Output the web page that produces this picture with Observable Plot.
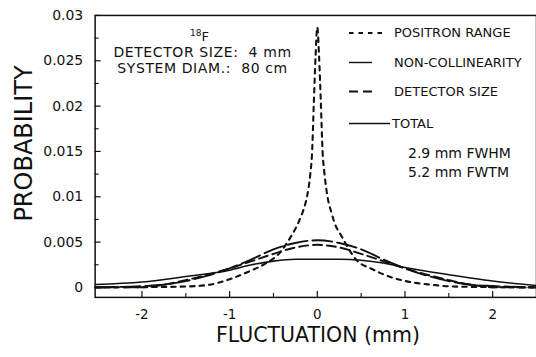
<!DOCTYPE html>
<html><head><meta charset="utf-8">
<script src="https://cdn.jsdelivr.net/npm/d3@7"></script>
<script src="https://cdn.jsdelivr.net/npm/@observablehq/plot@0.6"></script>
<style>
html,body{margin:0;padding:0;background:#fff;overflow:hidden;}
#wrap{position:relative;width:536px;height:357px;overflow:hidden;font-family:"DejaVu Sans",sans-serif;}
#wrap svg{position:absolute;left:0;top:0;}
</style></head><body><div id="wrap"></div>
<script>
// ---- data ----
const positronX = [-2.53,-2.0,-1.5,-1.23,-1.0,-0.77,-0.58,-0.43,-0.32,-0.2,-0.16,-0.12,-0.08,-0.06,-0.04,-0.02,0,
                   0.02,0.04,0.06,0.08,0.12,0.16,0.19,0.28,0.44,0.63,0.85,1.12,1.3,1.5,2.0,2.5];
const positronY = [0,0.00003,0.0001,0.0003,0.0009,0.0018,0.0027,0.0038,0.0053,0.0075,0.0085,0.0099,0.0125,0.0148,0.0203,0.0255,0.0287,
                   0.0255,0.0205,0.015,0.0127,0.0098,0.0083,0.0073,0.0056,0.0031,0.002,0.0011,0.0005,0.0003,0.00012,0.00003,0];
const noncolX = [-2.53,-2,-1.75,-1.5,-1.25,-1,-0.75,-0.5,-0.25,0,0.25,0.5,0.75,1,1.25,1.5,1.75,2,2.5];
const noncolY = [0.00002,0.00015,0.0003,0.0007,0.0013,0.0021,0.0031,0.0042,0.0049,0.0052,0.0049,0.0042,0.0031,0.0021,0.0013,0.0007,0.0003,0.00015,0.00002];
const detectorX = [-2.53,-2,-1.75,-1.5,-1.25,-1,-0.75,-0.5,-0.25,0,0.25,0.5,0.75,1,1.25,1.5,1.75,2,2.5];
const detectorY = [0,0.00003,0.0003,0.0008,0.0014,0.0021,0.0029,0.0037,0.0044,0.0047,0.0044,0.0037,0.0029,0.0021,0.0014,0.0008,0.0003,0.00003,0];
const totalX = [-2.53,-2,-1.5,-1,-0.75,-0.5,-0.25,0,0.25,0.5,0.75,1,1.5,2,2.5];
const totalY = [0.00033,0.0006,0.0012,0.0019,0.0025,0.0029,0.0031,0.0031,0.0031,0.003,0.0027,0.0022,0.0014,0.0007,0.0002];

const seriesNames = ["POSITRON RANGE","NON-COLLINEARITY","DETECTOR SIZE","TOTAL"];
const xMajor = [-2,-1,0,1,2];
const xMajorLabels = ["-2","-1","0","1","2"];
const xMinor = [-1.5,-0.5,0.5,1.5];
const yMajor = [0,0.005,0.01,0.015,0.02,0.025,0.03];
const yMajorLabels = ["0","0.005","0.01","0.015","0.02","0.025","0.03"];
const yMinor = [0.0025,0.0075,0.0125,0.0175,0.0225,0.0275];
const xDomain = [-2.534, 2.5];
const yDomain = [-0.0011, 0.03];
const xTitle = "FLUCTUATION (mm)";
const yTitle = "PROBABILITY";
const noteLines = ["DETECTOR SIZE:  4 mm", "SYSTEM DIAM.:  80 cm"];
const isotope = ["18", "F"];
const widthLines = ["2.9 mm FWHM", "5.2 mm FWTM"];

// ---- styles ----
const ink = "#111";
const curveDash = ["4.5,5", "20,5", "9,5", null];
const legendDash = ["4.5,5", null, "9,5", null];
const curveWidth = [2.1, 1.9, 2, 1.6];

const xs = [positronX, noncolX, detectorX, totalX];
const ys = [positronY, noncolY, detectorY, totalY];
const rows = [];
seriesNames.forEach((s, k) => xs[k].forEach((x, i) => rows.push({series: s, x, y: ys[k][i]})));

const chart = Plot.plot({
  width: 538, height: 357,
  marginLeft: 95, marginRight: 0, marginTop: 15, marginBottom: 59,
  style: {fontFamily: "DejaVu Sans", fontSize: "14px", color: ink, background: "transparent"},
  x: {domain: xDomain},
  y: {domain: yDomain},
  marks: [
    Plot.axisY({ticks: yMajor, tickSize: 0, tickPadding: 12, fontSize: 14, label: null,
      tickFormat: d => yMajorLabels[yMajor.indexOf(d)]}),
    Plot.axisY({ticks: yMajor, tickSize: 6, dx: 6, fill: "none", label: null, strokeWidth: 1.2}),
    Plot.axisY({ticks: yMinor, tickSize: 4, dx: 4, fill: "none", label: null, strokeWidth: 1.1}),
    Plot.axisX({ticks: xMajor, tickSize: 0, tickPadding: 12, fontSize: 13.5, label: null,
      tickFormat: d => xMajorLabels[xMajor.indexOf(d)]}),
    Plot.axisX({ticks: xMajor, tickSize: 6, dy: -6, fill: "none", label: null, strokeWidth: 1.2}),
    Plot.axisX({ticks: xMinor, tickSize: 4, dy: -4, fill: "none", label: null, strokeWidth: 1.1}),
    ...seriesNames.map((s, k) => Plot.line(rows.filter(r => r.series === s), {
      x: "x", y: "y", stroke: ink, strokeWidth: curveWidth[k],
      strokeDasharray: curveDash[k], curve: "monotone-x"
    })),
    Plot.frame({stroke: ink, strokeWidth: 1.5})
  ]
});
const wrap = document.getElementById("wrap");
wrap.appendChild(chart);

// ---- overlay: titles, notes, legend ----
const ov = d3.select(wrap).append("svg").attr("width", 536).attr("height", 357)
  .attr("font-family", "DejaVu Sans").attr("fill", ink);

ov.append("text").attr("x", 318).attr("y", 342).attr("text-anchor", "middle")
  .attr("font-size", 20.5).text(xTitle);
ov.append("text").attr("transform", "translate(32,143.5) rotate(-90)").attr("text-anchor", "middle")
  .attr("font-size", 24).text(yTitle);

const iso = ov.append("text").attr("x", 190).attr("y", 41);
iso.append("tspan").attr("font-size", 9).attr("dy", -5).text(isotope[0]);
iso.append("tspan").attr("font-size", 13).attr("dy", 5).text(isotope[1]);

const noteBase = [56.5, 73];
noteLines.forEach((t, i) => ov.append("text").attr("x", 202.5).attr("y", noteBase[i])
  .attr("text-anchor", "middle").attr("font-size", 14).attr("letter-spacing", 0.6)
  .style("white-space", "pre").text(t));

const legBase = [37, 66.5, 95.5, 127.5];
const legX2 = [384, 372, 372, 390];
const legTextX = [394, 394, 394, 392];
seriesNames.forEach((s, k) => {
  ov.append("line").attr("x1", 349).attr("x2", legX2[k])
    .attr("y1", legBase[k] - 4).attr("y2", legBase[k] - 4)
    .attr("stroke", ink).attr("stroke-width", k === 3 || k === 1 ? 1.4 : 1.9)
    .attr("stroke-dasharray", legendDash[k]);
  ov.append("text").attr("x", legTextX[k]).attr("y", legBase[k]).attr("font-size", 13).text(s);
});
const wBase = [158, 177];
widthLines.forEach((t, i) => ov.append("text").attr("x", 408).attr("y", wBase[i])
  .attr("font-size", 14).text(t));
</script></body></html>
